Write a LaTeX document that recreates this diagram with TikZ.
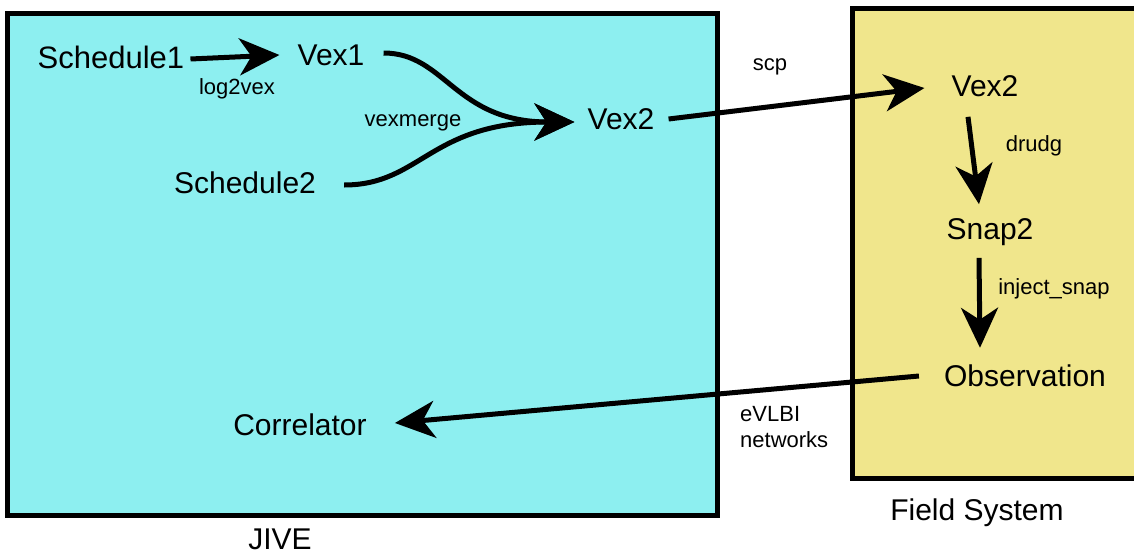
\documentclass[tikz,border=0pt]{standalone}
\usepackage{fontspec}
\setmainfont{Liberation Sans}
\usetikzlibrary{arrows.meta}
\definecolor{jivecyan}{RGB}{141,239,240}
\definecolor{fskhaki}{RGB}{240,230,140}
\begin{document}
\begin{tikzpicture}[x=1pt,y=-1pt,
  big/.style={font=\fontsize{30}{36}\selectfont, inner sep=0pt},
  small/.style={font=\fontsize{22}{26}\selectfont, inner sep=0pt},
  flow/.style={line width=5pt, -{Stealth[length=40pt,width=37pt,inset=12pt]}},
  region/.style={line width=5pt, draw=black}]
\useasboundingbox (0,0) rectangle (1134,554);
\draw[region, fill=jivecyan] (7,13) rectangle (717,515);
\draw[region, fill=fskhaki] (852,8) rectangle (1145,478);
% nodes
\node[big] (s1) at (111,57) {\fontsize{31}{36}\selectfont Schedule1};
\node[big] (v1) at (331,55) {Vex1};
\node[big] (v2) at (621,119) {Vex2};
\node[big] (s2) at (245,183) {Schedule2};
\node[big] (cor) at (300,425) {Correlator};
\node[big] (fv2) at (985,86) {Vex2};
\node[big] (snap) at (990,232) {Snap2};
\node[big] (obs) at (1025,376) {Observation};
\node[big] (jive) at (280,539) {JIVE};
\node[big] (fs) at (977,513) {Field System};
% labels
\node[small] (l2v) at (237,89) {log2vex};
\node[small] (vm) at (413,123) {vexmerge};
\node[small] (scp) at (770,67) {scp};
\node[small] (drudg) at (1034,146) {drudg};
\node[small] (inj) at (1054,289) {inject\_snap};
\node[small, align=left, anchor=west] (net) at (740,427) {eVLBI\\networks};
% connectors
\draw[flow] ([xshift=6pt,yshift=-2pt]s1.east) -- ([xshift=-18pt]v1.west);
\draw[flow] ([xshift=19pt,yshift=2pt]v1.east) .. controls +(62,0) and +(-120,0) .. ([xshift=-13pt,yshift=-3pt]v2.west);
\draw[flow] ([xshift=28pt,yshift=-2pt]s2.east) .. controls +(77,0) and +(-145,0) .. ([xshift=-13pt,yshift=-3pt]v2.west);
\draw[flow] ([xshift=14pt]v2.east) -- ([xshift=-27pt,yshift=-2pt]fv2.west);
\draw[flow] ([xshift=-17pt,yshift=-20pt]fv2.south) -- ([xshift=-11pt,yshift=14pt]snap.north);
\draw[flow] ([xshift=-11pt,yshift=-12pt]snap.south) -- ([xshift=-45pt,yshift=17pt]obs.north);
\draw[flow] ([xshift=-25pt]obs.west) -- ([xshift=28pt,yshift=2pt]cor.east);
\end{tikzpicture}
\end{document}
